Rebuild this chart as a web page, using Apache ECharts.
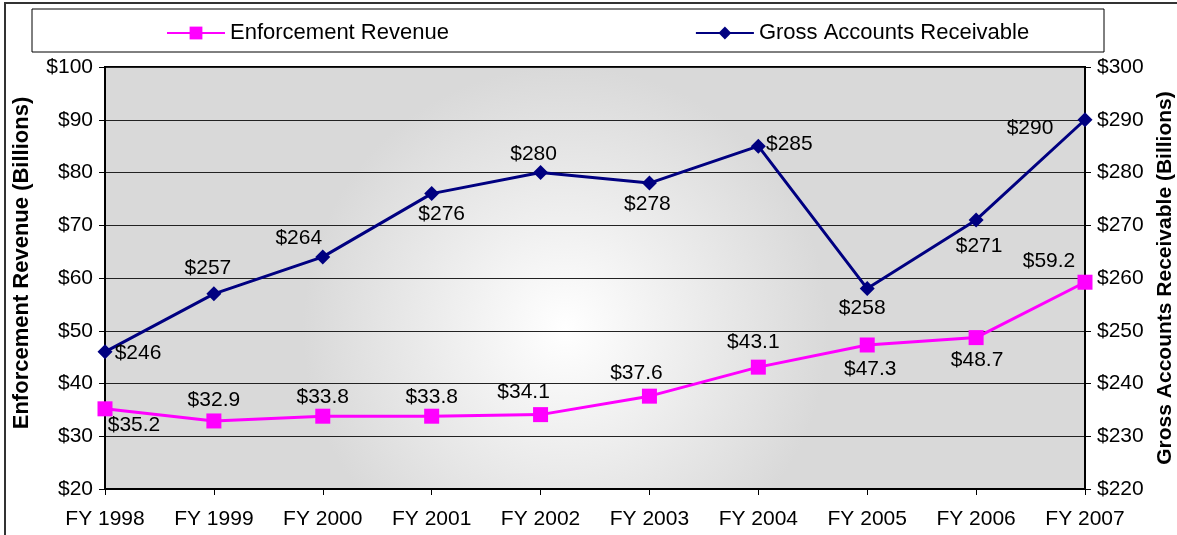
<!DOCTYPE html>
<html>
<head>
<meta charset="utf-8">
<script src="https://cdn.jsdelivr.net/npm/echarts@6/dist/echarts.min.js"></script>
<style>
  html, body { margin: 0; padding: 0; background: #fff; overflow: hidden; }
  #chart { width: 1177px; height: 535px; }
</style>
</head>
<body>
<div id="chart"></div>
<script>
// chart values
const categories = ['FY 1998', 'FY 1999', 'FY 2000', 'FY 2001', 'FY 2002',
                    'FY 2003', 'FY 2004', 'FY 2005', 'FY 2006', 'FY 2007'];
const enforcementRevenue = [35.2, 32.9, 33.8, 33.8, 34.1, 37.6, 43.1, 47.3, 48.7, 59.2];
const grossReceivable = [246, 257, 264, 276, 280, 278, 285, 258, 271, 290];

// where each data label sits relative to its marker
const revenueLabelOffset = [[29, 16], [0, -21], [0, -19], [0, -19], [-17, -22],
                            [-13, -23], [-5, -25], [3, 24], [1, 23], [-36, -21]];
const grossLabelOffset = [[33, 1], [-6, -26], [-24, -19], [10, 21], [-7, -18],
                          [-2, 21], [31, -2], [-5, 20], [3, 26], [-55, 8]];

const FONT = 'Liberation Sans, Arial, sans-serif';

function withOffsets(values, offsets) {
    return values.map((v, i) => ({ value: v, label: { offset: offsets[i] } }));
}

const chart = echarts.init(document.getElementById('chart'));

chart.setOption({
    animation: false,
    textStyle: { fontFamily: FONT, color: '#000' },
    graphic: [
        {
            type: 'rect',
            shape: { x: 5, y: 3, width: 1300, height: 700 },
            style: { fill: 'none', stroke: '#333', lineWidth: 2 },
            silent: true
        },
        {
            type: 'rect',
            shape: { x: 32, y: 9, width: 1072, height: 43 },
            style: { fill: '#fff', stroke: '#000', lineWidth: 1 },
            z: -1,
            silent: true
        }
    ],
    legend: {
        left: 161,
        top: 17,
        itemGap: 246,
        itemWidth: 58,
        itemHeight: 16,
        textStyle: { fontSize: 22, fontFamily: FONT, color: '#000' },
        data: ['Enforcement Revenue', 'Gross Accounts Receivable']
    },
    grid: {
        left: 105,
        right: 92,
        top: 67,
        bottom: 46,
        outerBoundsMode: 'none',
        show: true,
        borderColor: '#000',
        borderWidth: 2,
        backgroundColor: {
            type: 'radial',
            x: 0.47, y: 0.62, r: 0.62,
            colorStops: [
                { offset: 0, color: '#ffffff' },
                { offset: 1, color: '#d9d9d9' }
            ]
        }
    },
    xAxis: {
        type: 'category',
        data: categories,
        boundaryGap: false,
        axisLine: { lineStyle: { color: '#000', width: 2 } },
        axisTick: { show: true, length: 6, lineStyle: { color: '#000' } },
        axisLabel: { fontSize: 21, color: '#000', margin: 20, fontFamily: FONT },
        splitLine: { show: false }
    },
    yAxis: [
        {
            type: 'value',
            min: 20,
            max: 100,
            interval: 10,
            name: 'Enforcement Revenue (Billions)',
            nameLocation: 'middle',
            nameGap: 72,
            nameTextStyle: { fontSize: 22, fontWeight: 'bold', color: '#000', fontFamily: FONT,
                             padding: [0, 0, 0, 30] },
            axisLine: { show: true, lineStyle: { color: '#000', width: 2 } },
            axisTick: { show: true, length: 6, lineStyle: { color: '#000' } },
            axisLabel: { fontSize: 21, color: '#000', margin: 12, fontFamily: FONT,
                         formatter: v => '$' + v },
            splitLine: { show: true, lineStyle: { color: '#222', width: 1 } }
        },
        {
            type: 'value',
            min: 220,
            max: 300,
            interval: 10,
            position: 'right',
            name: 'Gross Accounts Receivable (Billions)',
            nameLocation: 'middle',
            nameGap: 66,
            nameTextStyle: { fontSize: 21, fontWeight: 'bold', color: '#000', fontFamily: FONT },
            axisLine: { show: true, lineStyle: { color: '#000', width: 2 } },
            axisTick: { show: true, length: 6, lineStyle: { color: '#000' } },
            axisLabel: { fontSize: 21, color: '#000', margin: 12, fontFamily: FONT,
                         formatter: v => '$' + v },
            splitLine: { show: false }
        }
    ],
    series: [
        {
            name: 'Enforcement Revenue',
            type: 'line',
            yAxisIndex: 0,
            data: withOffsets(enforcementRevenue, revenueLabelOffset),
            symbol: 'rect',
            symbolSize: 15,
            itemStyle: { color: '#ff00ff' },
            lineStyle: { color: '#ff00ff', width: 3 },
            label: {
                show: true,
                position: 'inside',
                fontSize: 21,
                color: '#000',
                fontFamily: FONT,
                formatter: p => '$' + p.value.toFixed(1)
            }
        },
        {
            name: 'Gross Accounts Receivable',
            type: 'line',
            yAxisIndex: 1,
            data: withOffsets(grossReceivable, grossLabelOffset),
            symbol: 'diamond',
            symbolSize: 15,
            itemStyle: { color: '#000080' },
            lineStyle: { color: '#000080', width: 3 },
            label: {
                show: true,
                position: 'inside',
                fontSize: 21,
                color: '#000',
                fontFamily: FONT,
                formatter: p => '$' + p.value
            }
        }
    ]
});

window.addEventListener('resize', () => chart.resize());
</script>
</body>
</html>
